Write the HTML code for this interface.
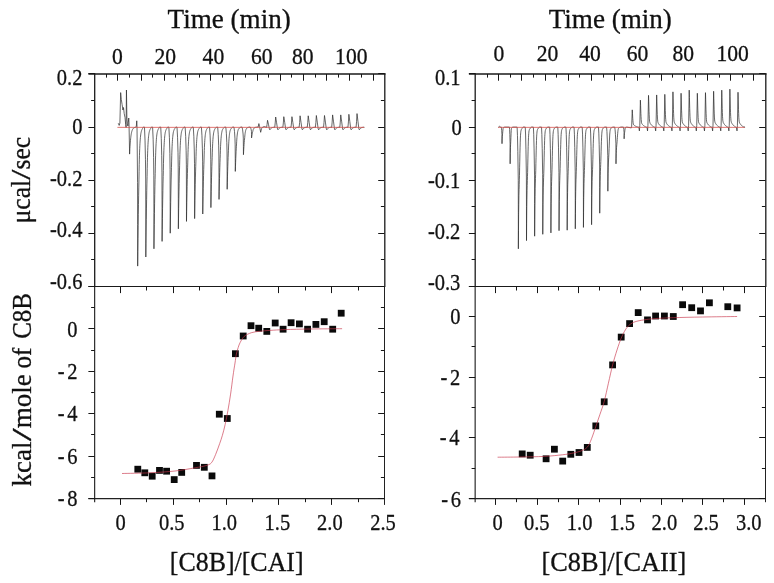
<!DOCTYPE html>
<html><head><meta charset="utf-8"><title>ITC</title>
<style>html,body{margin:0;padding:0;background:#fff}svg{display:block}text{stroke:#111;stroke-width:.3px;stroke-linejoin:round}</style>
</head><body>
<svg width="774" height="583" viewBox="0 0 774 583" font-family='"Liberation Serif", "Times New Roman", serif' fill="#111">
<rect width="774" height="583" fill="#fff"/>
<path d="M118.40,123.60 L119.20,125.40 L119.90,123.00 L120.65,92.60 L121.30,99.50 L122.10,104.50 L122.90,110.00 L123.50,107.50 L124.20,113.50 L125.00,117.50 L125.70,124.50 L126.10,127.50 L126.45,90.00 L126.90,118.00 L127.40,123.50 L127.90,126.00 L128.30,122.50 L128.75,118.00 L129.00,123.00 L129.60,154.10 L129.72,151.57 L129.87,148.74 L130.02,146.24 L130.17,144.02 L130.32,142.06 L130.47,140.33 L130.62,138.80 L130.77,137.45 L130.92,136.25 L131.07,135.19 L131.22,134.26 L131.37,133.43 L131.52,132.70 L131.67,132.05 L131.82,131.48 L131.97,130.97 L132.12,130.52 L132.27,130.13 L132.42,129.78 L132.57,129.47 L132.72,129.19 L132.87,128.95 L133.02,128.74 L133.17,128.55 L133.32,128.38 L133.47,128.23 L133.62,128.10 L133.77,127.98 L133.92,127.88 L134.07,127.79 L134.22,127.71 L134.37,127.64 L134.52,127.58 L134.67,127.52 L134.82,127.47 L134.97,127.43 L135.12,127.39 L136.30,126.60 L136.75,120.80 L137.00,126.20 L137.55,182.70 L137.64,224.40 L137.68,266.10 L137.84,251.43 L138.00,238.30 L138.16,225.78 L138.31,214.67 L138.47,204.33 L138.63,195.21 L138.79,187.08 L138.94,179.92 L139.08,171.62 L139.21,164.63 L139.33,159.89 L139.45,155.74 L139.57,152.12 L139.71,148.70 L139.84,145.75 L139.98,143.20 L140.11,141.00 L140.26,139.10 L140.40,137.46 L140.55,136.05 L140.69,134.83 L140.83,133.77 L140.96,133.10 L141.08,132.50 L141.20,131.96 L141.33,131.47 L141.45,131.03 L141.57,130.64 L141.69,130.28 L141.82,129.96 L141.94,129.68 L142.06,129.42 L142.18,129.19 L142.30,128.95 L142.42,128.72 L142.54,128.49 L142.66,128.26 L142.78,128.03 L142.90,127.79 L143.02,127.56 L143.14,127.33 L143.26,127.10 L144.47,127.10 L145.02,140.09 L145.46,159.57 L145.69,179.06 L145.78,218.03 L145.82,257.00 L145.98,243.29 L146.13,231.02 L146.29,219.32 L146.45,208.94 L146.61,199.27 L146.76,190.75 L146.92,183.15 L147.08,176.46 L147.21,168.71 L147.35,162.17 L147.47,157.74 L147.59,153.87 L147.71,150.48 L147.84,147.29 L147.98,144.53 L148.11,142.15 L148.25,140.09 L148.39,138.32 L148.54,136.79 L148.68,135.46 L148.83,134.32 L148.97,133.34 L149.09,132.71 L149.22,132.15 L149.34,131.64 L149.46,131.18 L149.58,130.77 L149.71,130.41 L149.83,130.07 L149.95,129.78 L150.07,129.51 L150.20,129.27 L150.32,129.05 L150.44,128.83 L150.56,128.62 L150.68,128.40 L150.80,128.18 L150.92,127.97 L151.04,127.75 L151.16,127.53 L151.28,127.32 L151.40,127.10 L152.60,127.10 L153.15,139.27 L153.59,157.52 L153.82,175.78 L153.91,212.29 L153.95,248.80 L154.11,235.95 L154.27,224.46 L154.43,213.50 L154.58,203.77 L154.74,194.72 L154.90,186.73 L155.06,179.61 L155.21,173.35 L155.35,166.08 L155.48,159.96 L155.60,155.80 L155.72,152.18 L155.84,149.01 L155.98,146.01 L156.11,143.43 L156.25,141.20 L156.38,139.27 L156.53,137.61 L156.67,136.17 L156.82,134.93 L156.96,133.87 L157.10,132.94 L157.23,132.36 L157.35,131.83 L157.47,131.35 L157.60,130.93 L157.72,130.54 L157.84,130.20 L157.96,129.89 L158.09,129.61 L158.21,129.36 L158.33,129.13 L158.45,128.93 L158.57,128.72 L158.69,128.52 L158.81,128.32 L158.93,128.11 L159.05,127.91 L159.17,127.71 L159.29,127.51 L159.41,127.30 L159.53,127.10 L160.74,127.10 L161.29,138.53 L161.73,155.67 L161.96,172.82 L162.05,207.11 L162.09,241.40 L162.25,229.33 L162.40,218.54 L162.56,208.24 L162.72,199.11 L162.88,190.61 L163.03,183.11 L163.19,176.42 L163.35,170.53 L163.48,163.71 L163.62,157.96 L163.74,154.06 L163.86,150.65 L163.98,147.67 L164.11,144.86 L164.25,142.43 L164.38,140.34 L164.52,138.53 L164.66,136.97 L164.81,135.62 L164.95,134.46 L165.10,133.45 L165.24,132.59 L165.36,132.04 L165.49,131.54 L165.61,131.10 L165.73,130.69 L165.85,130.33 L165.98,130.01 L166.10,129.72 L166.22,129.45 L166.34,129.22 L166.47,129.01 L166.59,128.81 L166.71,128.62 L166.83,128.43 L166.95,128.24 L167.07,128.05 L167.19,127.86 L167.31,127.67 L167.43,127.48 L167.55,127.29 L167.67,127.10 L168.87,127.10 L169.42,137.71 L169.86,153.62 L170.09,169.54 L170.18,201.37 L170.22,233.20 L170.38,222.00 L170.54,211.98 L170.70,202.42 L170.85,193.94 L171.01,186.05 L171.17,179.09 L171.33,172.88 L171.48,167.42 L171.62,161.09 L171.75,155.75 L171.87,152.13 L171.99,148.96 L172.11,146.20 L172.25,143.59 L172.38,141.33 L172.52,139.39 L172.65,137.71 L172.80,136.26 L172.94,135.01 L173.09,133.93 L173.23,133.00 L173.37,132.19 L173.50,131.68 L173.62,131.22 L173.74,130.81 L173.87,130.44 L173.99,130.10 L174.11,129.80 L174.23,129.53 L174.36,129.29 L174.48,129.07 L174.60,128.87 L174.72,128.69 L174.84,128.51 L174.96,128.34 L175.08,128.16 L175.20,127.98 L175.32,127.81 L175.44,127.63 L175.56,127.45 L175.68,127.28 L175.80,127.10 L177.01,127.10 L177.56,137.27 L178.00,152.52 L178.23,167.78 L178.32,198.29 L178.36,228.80 L178.52,218.06 L178.67,208.46 L178.83,199.30 L178.99,191.17 L179.15,183.61 L179.30,176.93 L179.46,170.98 L179.62,165.75 L179.75,159.68 L179.89,154.56 L180.01,151.09 L180.13,148.06 L180.25,145.41 L180.38,142.90 L180.52,140.74 L180.65,138.88 L180.79,137.27 L180.93,135.88 L181.08,134.68 L181.22,133.65 L181.37,132.75 L181.51,131.98 L181.63,131.49 L181.76,131.05 L181.88,130.65 L182.00,130.30 L182.12,129.98 L182.25,129.69 L182.37,129.43 L182.49,129.19 L182.61,128.98 L182.74,128.80 L182.86,128.63 L182.98,128.46 L183.10,128.29 L183.22,128.12 L183.34,127.95 L183.46,127.78 L183.58,127.61 L183.70,127.44 L183.82,127.27 L183.94,127.10 L185.14,127.10 L185.69,136.53 L186.13,150.67 L186.36,164.82 L186.45,193.11 L186.49,221.40 L186.65,211.44 L186.81,202.54 L186.97,194.05 L187.12,186.51 L187.28,179.49 L187.44,173.31 L187.60,167.79 L187.75,162.93 L187.89,157.31 L188.02,152.56 L188.14,149.34 L188.26,146.53 L188.38,144.07 L188.52,141.75 L188.65,139.75 L188.79,138.02 L188.92,136.53 L189.07,135.24 L189.21,134.13 L189.36,133.17 L189.50,132.34 L189.64,131.63 L189.77,131.17 L189.89,130.76 L190.01,130.40 L190.14,130.07 L190.26,129.77 L190.38,129.50 L190.50,129.26 L190.63,129.04 L190.75,128.85 L190.87,128.67 L190.99,128.51 L191.11,128.36 L191.23,128.20 L191.35,128.04 L191.47,127.89 L191.59,127.73 L191.71,127.57 L191.83,127.41 L191.95,127.26 L192.07,127.10 L193.28,127.10 L193.83,136.25 L194.27,149.97 L194.50,163.70 L194.59,191.15 L194.63,218.60 L194.79,208.94 L194.94,200.30 L195.10,192.06 L195.26,184.75 L195.42,177.94 L195.57,171.94 L195.73,166.58 L195.89,161.87 L196.02,156.41 L196.16,151.81 L196.28,148.68 L196.40,145.95 L196.52,143.57 L196.65,141.32 L196.79,139.38 L196.92,137.70 L197.06,136.25 L197.20,135.00 L197.35,133.92 L197.49,132.99 L197.64,132.19 L197.78,131.49 L197.90,131.05 L198.03,130.65 L198.15,130.30 L198.27,129.98 L198.39,129.69 L198.52,129.43 L198.64,129.20 L198.76,128.98 L198.88,128.80 L199.01,128.63 L199.13,128.47 L199.25,128.32 L199.37,128.17 L199.49,128.01 L199.61,127.86 L199.73,127.71 L199.85,127.56 L199.97,127.41 L200.09,127.25 L200.21,127.10 L201.41,127.10 L201.96,135.79 L202.40,148.82 L202.63,161.86 L202.72,187.93 L202.76,214.00 L202.92,204.83 L203.08,196.62 L203.24,188.79 L203.39,181.85 L203.55,175.38 L203.71,169.68 L203.87,164.60 L204.02,160.12 L204.16,154.94 L204.29,150.56 L204.41,147.60 L204.53,145.01 L204.66,142.74 L204.79,140.60 L204.92,138.76 L205.06,137.17 L205.19,135.79 L205.34,134.60 L205.48,133.58 L205.63,132.69 L205.77,131.93 L205.91,131.27 L206.04,130.85 L206.16,130.48 L206.28,130.14 L206.41,129.83 L206.53,129.56 L206.65,129.31 L206.77,129.09 L206.90,128.89 L207.02,128.71 L207.14,128.55 L207.26,128.40 L207.38,128.26 L207.50,128.11 L207.62,127.97 L207.74,127.82 L207.86,127.68 L207.98,127.53 L208.10,127.39 L208.22,127.24 L208.34,127.10 L209.55,127.10 L210.10,135.15 L210.54,147.22 L210.77,159.30 L210.86,183.45 L210.90,207.60 L211.06,199.10 L211.21,191.50 L211.37,184.25 L211.53,177.81 L211.69,171.83 L211.84,166.54 L212.00,161.84 L212.16,157.69 L212.29,152.89 L212.43,148.84 L212.55,146.09 L212.67,143.69 L212.79,141.59 L212.92,139.61 L213.06,137.90 L213.19,136.42 L213.33,135.15 L213.47,134.05 L213.62,133.10 L213.76,132.28 L213.91,131.57 L214.05,130.96 L214.17,130.58 L214.30,130.23 L214.42,129.91 L214.54,129.63 L214.66,129.38 L214.79,129.15 L214.91,128.94 L215.03,128.76 L215.15,128.59 L215.28,128.44 L215.40,128.31 L215.52,128.17 L215.64,128.04 L215.76,127.91 L215.88,127.77 L216.00,127.64 L216.12,127.50 L216.24,127.37 L216.36,127.23 L216.48,127.10 L217.68,127.10 L218.23,134.33 L218.67,145.17 L218.90,156.02 L218.99,177.71 L219.03,199.40 L219.19,191.77 L219.35,184.94 L219.51,178.43 L219.66,172.65 L219.82,167.27 L219.98,162.53 L220.14,158.30 L220.29,154.57 L220.43,150.26 L220.56,146.62 L220.68,144.15 L220.80,142.00 L220.92,140.11 L221.06,138.34 L221.19,136.80 L221.33,135.47 L221.46,134.33 L221.61,133.34 L221.75,132.49 L221.90,131.75 L222.04,131.12 L222.18,130.57 L222.31,130.22 L222.43,129.91 L222.55,129.63 L222.68,129.37 L222.80,129.15 L222.92,128.94 L223.04,128.76 L223.17,128.59 L223.29,128.44 L223.41,128.31 L223.53,128.18 L223.65,128.06 L223.77,127.94 L223.89,127.82 L224.01,127.70 L224.13,127.58 L224.25,127.46 L224.37,127.34 L224.49,127.22 L224.61,127.10 L225.82,127.10 L226.37,133.32 L226.81,142.65 L227.04,151.98 L227.13,170.64 L227.17,189.30 L227.33,182.73 L227.48,176.86 L227.64,171.26 L227.80,166.29 L227.96,161.66 L228.11,157.58 L228.27,153.94 L228.43,150.74 L228.56,147.02 L228.70,143.89 L228.82,141.77 L228.94,139.92 L229.06,138.30 L229.19,136.77 L229.33,135.45 L229.46,134.30 L229.60,133.32 L229.74,132.47 L229.89,131.74 L230.03,131.10 L230.18,130.56 L230.32,130.09 L230.44,129.79 L230.57,129.52 L230.69,129.27 L230.81,129.06 L230.93,128.86 L231.06,128.68 L231.18,128.52 L231.30,128.38 L231.42,128.25 L231.55,128.14 L231.67,128.03 L231.79,127.93 L231.91,127.83 L232.03,127.72 L232.15,127.62 L232.27,127.51 L232.39,127.41 L232.51,127.31 L232.63,127.20 L232.75,127.10 L233.95,127.10 L234.50,131.53 L234.94,138.17 L235.17,144.82 L235.26,158.11 L235.30,171.40 L235.46,166.72 L235.62,162.54 L235.78,158.55 L235.93,155.01 L236.09,151.71 L236.25,148.81 L236.41,146.22 L236.56,143.93 L236.70,141.29 L236.83,139.06 L236.95,137.55 L237.07,136.23 L237.19,135.07 L237.33,133.98 L237.46,133.04 L237.60,132.23 L237.73,131.53 L237.88,130.93 L238.02,130.40 L238.17,129.95 L238.31,129.56 L238.45,129.23 L238.58,129.01 L238.70,128.82 L238.82,128.65 L238.95,128.49 L239.07,128.35 L239.19,128.23 L239.31,128.11 L239.44,128.01 L239.56,127.92 L239.68,127.84 L239.80,127.76 L239.92,127.69 L240.04,127.62 L240.16,127.54 L240.28,127.47 L240.40,127.40 L240.52,127.32 L240.64,127.25 L240.76,127.17 L240.88,127.10 L242.09,127.10 L242.64,129.86 L243.08,134.00 L243.31,138.14 L243.40,146.42 L243.44,154.70 L243.60,151.79 L243.75,149.18 L243.91,146.69 L244.07,144.49 L244.23,142.43 L244.38,140.62 L244.54,139.01 L244.70,137.59 L244.83,135.94 L244.97,134.55 L245.09,133.61 L245.21,132.79 L245.33,132.07 L245.46,131.39 L245.60,130.80 L245.73,130.30 L245.87,129.86 L246.01,129.48 L246.16,129.16 L246.30,128.88 L246.45,128.63 L246.59,128.42 L246.71,128.29 L246.84,128.17 L246.96,128.06 L247.08,127.97 L247.20,127.88 L247.33,127.80 L247.45,127.73 L247.57,127.67 L247.69,127.61 L247.82,127.56 L247.94,127.51 L248.06,127.47 L248.18,127.42 L248.30,127.38 L248.42,127.33 L248.54,127.28 L248.66,127.24 L248.78,127.19 L248.90,127.15 L249.02,127.10 L250.22,127.10 L250.77,128.18 L251.21,129.80 L251.44,131.42 L251.53,134.66 L251.57,137.90 L251.73,136.76 L251.89,135.74 L252.05,134.77 L252.20,133.90 L252.36,133.10 L252.52,132.39 L252.68,131.76 L252.83,131.20 L252.97,130.56 L253.10,130.02 L253.22,129.65 L253.34,129.33 L253.47,129.04 L253.60,128.78 L253.73,128.55 L253.87,128.35 L254.00,128.18 L254.15,128.03 L254.29,127.91 L254.44,127.80 L254.58,127.70 L254.72,127.62 L254.85,127.57 L254.97,127.52 L255.09,127.48 L255.22,127.44 L255.34,127.41 L255.46,127.37 L255.58,127.35 L255.71,127.32 L255.83,127.30 L255.95,127.28 L256.07,127.26 L256.19,127.24 L256.31,127.23 L256.44,127.21 L256.56,127.19 L256.68,127.17 L256.80,127.15 L256.91,127.14 L257.03,127.12 L257.15,127.10 L258.16,127.10 L258.86,123.60 L259.56,126.40 L260.66,132.30 L261.56,128.60 L262.56,127.20 L264.26,126.60 L266.59,127.40 L267.07,124.45 L267.54,120.30 L268.47,124.27 L269.39,128.99 L269.89,129.80 L270.19,129.28 L270.50,128.86 L270.79,128.52 L271.09,128.25 L271.39,128.02 L271.69,127.85 L272.00,127.70 L272.29,127.59 L272.59,127.49 L272.89,127.42 L273.19,127.36 L273.50,127.31 L273.79,127.27 L274.09,127.23 L274.73,127.40 L275.20,123.07 L275.68,117.00 L276.60,122.78 L277.53,128.99 L278.03,129.80 L278.33,129.28 L278.63,128.86 L278.93,128.52 L279.23,128.25 L279.53,128.02 L279.83,127.85 L280.13,127.70 L280.43,127.59 L280.73,127.49 L281.03,127.42 L281.33,127.36 L281.63,127.31 L281.93,127.27 L282.23,127.23 L282.86,127.40 L283.34,122.94 L283.81,116.70 L284.74,122.64 L285.66,128.99 L286.16,129.80 L286.46,129.28 L286.76,128.86 L287.06,128.52 L287.36,128.25 L287.66,128.02 L287.96,127.85 L288.26,127.70 L288.56,127.59 L288.86,127.49 L289.16,127.42 L289.46,127.36 L289.76,127.31 L290.06,127.27 L290.36,127.23 L291.00,127.40 L291.47,122.94 L291.95,116.70 L292.87,122.64 L293.80,128.99 L294.30,129.80 L294.60,129.28 L294.90,128.86 L295.20,128.52 L295.50,128.25 L295.80,128.02 L296.10,127.85 L296.40,127.70 L296.70,127.59 L297.00,127.49 L297.30,127.42 L297.60,127.36 L297.90,127.31 L298.20,127.27 L298.50,127.23 L299.13,127.40 L299.61,122.56 L300.08,115.80 L301.01,122.24 L301.94,128.99 L302.44,129.80 L302.74,129.28 L303.04,128.86 L303.33,128.52 L303.63,128.25 L303.94,128.02 L304.24,127.85 L304.54,127.70 L304.83,127.59 L305.13,127.49 L305.44,127.42 L305.74,127.36 L306.04,127.31 L306.33,127.27 L306.63,127.23 L307.27,127.40 L307.74,122.56 L308.22,115.80 L309.14,122.24 L310.07,128.99 L310.57,129.80 L310.87,129.28 L311.17,128.86 L311.47,128.52 L311.77,128.25 L312.07,128.02 L312.37,127.85 L312.67,127.70 L312.97,127.59 L313.27,127.49 L313.57,127.42 L313.87,127.36 L314.17,127.31 L314.47,127.27 L314.77,127.23 L315.40,127.40 L315.88,122.44 L316.35,115.50 L317.28,122.10 L318.20,128.99 L318.70,129.80 L319.00,129.28 L319.31,128.86 L319.60,128.52 L319.90,128.25 L320.20,128.02 L320.50,127.85 L320.81,127.70 L321.10,127.59 L321.40,127.49 L321.70,127.42 L322.00,127.36 L322.31,127.31 L322.60,127.27 L322.90,127.23 L323.54,127.40 L324.01,122.44 L324.49,115.50 L325.42,122.10 L326.34,128.99 L326.84,129.80 L327.14,129.28 L327.44,128.86 L327.74,128.52 L328.04,128.25 L328.34,128.02 L328.64,127.85 L328.94,127.70 L329.24,127.59 L329.54,127.49 L329.84,127.42 L330.14,127.36 L330.44,127.31 L330.74,127.27 L331.04,127.23 L331.68,127.40 L332.15,122.19 L332.62,114.90 L333.55,121.83 L334.48,128.99 L334.98,129.80 L335.28,129.28 L335.58,128.86 L335.88,128.52 L336.18,128.25 L336.48,128.02 L336.78,127.85 L337.08,127.70 L337.38,127.59 L337.68,127.49 L337.98,127.42 L338.28,127.36 L338.58,127.31 L338.88,127.27 L339.18,127.23 L339.81,127.40 L340.28,122.19 L340.76,114.90 L341.69,121.83 L342.61,128.99 L343.11,129.80 L343.41,129.28 L343.71,128.86 L344.01,128.52 L344.31,128.25 L344.61,128.02 L344.91,127.85 L345.21,127.70 L345.51,127.59 L345.81,127.49 L346.11,127.42 L346.41,127.36 L346.71,127.31 L347.01,127.27 L347.31,127.23 L347.94,127.40 L348.42,121.93 L348.89,114.30 L349.82,121.56 L350.75,128.99 L351.25,129.80 L351.55,129.28 L351.85,128.86 L352.14,128.52 L352.44,128.25 L352.75,128.02 L353.05,127.85 L353.35,127.70 L353.64,127.59 L353.94,127.49 L354.25,127.42 L354.55,127.36 L354.85,127.31 L355.14,127.27 L355.44,127.23 L356.08,127.40 L356.55,121.64 L357.03,113.60 L357.95,121.25 L358.88,128.99 L359.38,129.80 L359.68,129.28 L359.98,128.86 L360.28,128.52 L360.58,128.25 L360.88,128.02 L361.18,127.85 L361.48,127.70 L361.78,127.59 L362.08,127.49 L362.38,127.42 L362.68,127.36 L362.98,127.31 L363.28,127.27 L363.58,127.23 L364.00,127.30" fill="none" stroke="#2b2b2b" stroke-width="0.72" stroke-linejoin="miter" stroke-miterlimit="20" stroke-linecap="round"/>
<path d="M498.60,127.10 L499.60,126.30 L500.60,127.10 L501.31,127.10 L501.50,128.26 L501.70,130.42 L501.94,134.40 L501.98,138.72 L502.00,143.70 L502.14,139.05 L502.30,136.40 L502.47,134.90 L502.60,133.74 L502.77,131.75 L502.94,129.92 L503.10,128.59 L503.24,128.03 L503.38,127.68 L503.50,127.55 L503.62,127.45 L503.74,127.37 L503.86,127.31 L503.98,127.27 L504.11,127.24 L504.24,127.21 L504.37,127.18 L504.49,127.16 L504.62,127.13 L504.75,127.10 L509.45,127.10 L509.64,129.67 L509.83,134.44 L510.08,143.25 L510.12,152.79 L510.13,163.80 L510.27,153.52 L510.44,147.65 L510.60,144.35 L510.74,141.78 L510.91,137.38 L511.07,133.34 L511.24,130.40 L511.37,129.16 L511.51,128.38 L511.63,128.10 L511.75,127.88 L511.87,127.71 L511.99,127.57 L512.12,127.47 L512.24,127.41 L512.37,127.34 L512.50,127.28 L512.63,127.22 L512.76,127.16 L512.88,127.10 L517.12,127.10 L517.47,135.62 L517.82,151.44 L518.27,180.65 L518.34,212.29 L518.37,248.80 L518.49,230.37 L518.62,214.72 L518.77,204.38 L518.92,195.25 L519.07,189.54 L519.22,184.30 L519.34,179.87 L519.47,175.78 L519.62,167.83 L519.77,161.18 L519.92,153.65 L520.07,147.79 L520.22,142.15 L520.37,138.05 L520.49,135.75 L520.62,133.93 L520.74,132.49 L520.87,131.36 L520.99,130.81 L521.11,130.32 L521.24,129.91 L521.36,129.54 L521.48,129.22 L521.60,128.95 L521.73,128.71 L521.85,128.50 L521.97,128.32 L522.10,128.21 L522.22,128.10 L522.35,127.99 L522.48,127.87 L522.61,127.76 L522.73,127.65 L522.86,127.54 L522.99,127.43 L523.12,127.32 L523.24,127.21 L523.37,127.10 L525.25,127.10 L525.60,135.04 L525.95,149.80 L526.40,177.04 L526.47,206.55 L526.50,240.60 L526.63,223.41 L526.75,208.82 L526.90,199.17 L527.05,190.66 L527.20,185.33 L527.35,180.44 L527.48,176.31 L527.60,172.50 L527.75,165.08 L527.90,158.88 L528.05,151.86 L528.20,146.39 L528.35,141.14 L528.50,137.31 L528.63,135.17 L528.75,133.47 L528.88,132.13 L529.00,131.07 L529.13,130.56 L529.25,130.11 L529.37,129.72 L529.49,129.38 L529.62,129.08 L529.74,128.82 L529.86,128.60 L529.98,128.40 L530.10,128.23 L530.23,128.13 L530.36,128.03 L530.49,127.93 L530.61,127.82 L530.74,127.72 L530.87,127.62 L531.00,127.51 L531.12,127.41 L531.25,127.31 L531.38,127.20 L531.50,127.10 L533.39,127.10 L533.74,134.74 L534.09,148.92 L534.54,175.10 L534.61,203.47 L534.64,236.20 L534.76,219.67 L534.89,205.65 L535.04,196.38 L535.19,188.20 L535.34,183.07 L535.49,178.38 L535.61,174.40 L535.74,170.74 L535.89,163.61 L536.04,157.65 L536.19,150.90 L536.34,145.65 L536.49,140.59 L536.64,136.92 L536.76,134.85 L536.89,133.22 L537.01,131.94 L537.14,130.92 L537.26,130.42 L537.38,129.99 L537.51,129.61 L537.63,129.29 L537.75,129.00 L537.87,128.76 L538.00,128.54 L538.12,128.35 L538.24,128.19 L538.37,128.09 L538.49,127.99 L538.62,127.89 L538.75,127.79 L538.88,127.70 L539.00,127.60 L539.13,127.50 L539.26,127.40 L539.39,127.30 L539.51,127.20 L539.64,127.10 L541.52,127.10 L541.87,134.60 L542.22,148.54 L542.67,174.27 L542.74,202.14 L542.77,234.30 L542.90,218.06 L543.02,204.28 L543.17,195.17 L543.32,187.13 L543.47,182.10 L543.62,177.48 L543.75,173.58 L543.87,169.98 L544.02,162.98 L544.17,157.12 L544.32,150.49 L544.47,145.32 L544.62,140.36 L544.77,136.75 L544.90,134.72 L545.02,133.12 L545.15,131.85 L545.27,130.85 L545.40,130.36 L545.52,129.94 L545.64,129.57 L545.76,129.25 L545.89,128.97 L546.01,128.73 L546.13,128.52 L546.25,128.33 L546.37,128.17 L546.50,128.07 L546.63,127.98 L546.76,127.88 L546.88,127.78 L547.01,127.68 L547.14,127.59 L547.27,127.49 L547.39,127.39 L547.52,127.29 L547.65,127.20 L547.77,127.10 L549.66,127.10 L550.01,134.51 L550.36,148.26 L550.81,173.65 L550.88,201.16 L550.91,232.90 L551.03,216.87 L551.16,203.28 L551.31,194.28 L551.46,186.35 L551.61,181.38 L551.76,176.83 L551.88,172.97 L552.01,169.42 L552.16,162.51 L552.31,156.72 L552.46,150.18 L552.61,145.09 L552.76,140.19 L552.91,136.62 L553.03,134.62 L553.16,133.04 L553.28,131.79 L553.41,130.80 L553.53,130.32 L553.65,129.90 L553.78,129.54 L553.90,129.22 L554.02,128.95 L554.14,128.71 L554.27,128.50 L554.39,128.32 L554.51,128.16 L554.64,128.06 L554.76,127.97 L554.89,127.87 L555.02,127.77 L555.15,127.68 L555.27,127.58 L555.40,127.48 L555.53,127.39 L555.66,127.29 L555.78,127.20 L555.91,127.10 L557.79,127.10 L558.14,134.35 L558.50,147.82 L558.94,172.68 L559.01,199.62 L559.04,230.70 L559.17,215.01 L559.29,201.69 L559.44,192.88 L559.59,185.12 L559.74,180.25 L559.89,175.79 L560.02,172.02 L560.14,168.54 L560.29,161.77 L560.44,156.11 L560.59,149.70 L560.74,144.71 L560.89,139.91 L561.04,136.42 L561.17,134.46 L561.29,132.91 L561.42,131.69 L561.54,130.73 L561.67,130.25 L561.79,129.84 L561.91,129.49 L562.03,129.18 L562.16,128.91 L562.28,128.67 L562.40,128.47 L562.52,128.29 L562.64,128.14 L562.77,128.04 L562.90,127.95 L563.03,127.85 L563.15,127.76 L563.28,127.67 L563.41,127.57 L563.54,127.48 L563.66,127.38 L563.79,127.29 L563.92,127.19 L564.04,127.10 L565.93,127.10 L566.28,134.32 L566.63,147.72 L567.08,172.46 L567.15,199.27 L567.18,230.20 L567.30,214.58 L567.43,201.33 L567.58,192.57 L567.73,184.84 L567.88,179.99 L568.03,175.56 L568.15,171.80 L568.28,168.34 L568.43,161.60 L568.58,155.97 L568.73,149.59 L568.88,144.63 L569.03,139.85 L569.18,136.38 L569.30,134.43 L569.43,132.89 L569.55,131.67 L569.68,130.71 L569.80,130.24 L569.92,129.83 L570.05,129.48 L570.17,129.17 L570.29,128.90 L570.41,128.67 L570.54,128.46 L570.66,128.28 L570.78,128.13 L570.91,128.04 L571.03,127.94 L571.16,127.85 L571.29,127.76 L571.42,127.66 L571.54,127.57 L571.67,127.47 L571.80,127.38 L571.93,127.29 L572.05,127.19 L572.18,127.10 L574.06,127.10 L574.41,134.22 L574.76,147.44 L575.21,171.85 L575.28,198.29 L575.31,228.80 L575.44,213.40 L575.56,200.32 L575.71,191.68 L575.86,184.05 L576.01,179.28 L576.16,174.90 L576.29,171.20 L576.41,167.78 L576.56,161.14 L576.71,155.58 L576.86,149.29 L577.01,144.39 L577.16,139.68 L577.31,136.25 L577.44,134.33 L577.56,132.81 L577.69,131.61 L577.81,130.66 L577.94,130.20 L578.06,129.79 L578.18,129.44 L578.30,129.14 L578.43,128.87 L578.55,128.64 L578.67,128.44 L578.79,128.27 L578.91,128.12 L579.04,128.02 L579.17,127.93 L579.30,127.84 L579.42,127.75 L579.55,127.65 L579.68,127.56 L579.81,127.47 L579.93,127.38 L580.06,127.28 L580.19,127.19 L580.31,127.10 L582.20,127.10 L582.55,134.12 L582.90,147.16 L583.35,171.23 L583.42,197.31 L583.45,227.40 L583.57,212.21 L583.70,199.32 L583.85,190.79 L584.00,183.27 L584.15,178.56 L584.30,174.24 L584.42,170.59 L584.55,167.22 L584.70,160.67 L584.85,155.18 L585.00,148.98 L585.15,144.15 L585.30,139.51 L585.45,136.13 L585.57,134.23 L585.70,132.73 L585.82,131.55 L585.95,130.61 L586.07,130.15 L586.19,129.76 L586.32,129.41 L586.44,129.11 L586.56,128.85 L586.68,128.62 L586.81,128.42 L586.93,128.25 L587.05,128.10 L587.18,128.01 L587.30,127.92 L587.43,127.83 L587.56,127.74 L587.69,127.65 L587.81,127.56 L587.94,127.46 L588.07,127.37 L588.20,127.28 L588.32,127.19 L588.45,127.10 L590.33,127.10 L590.68,133.93 L591.03,146.62 L591.48,170.04 L591.55,195.42 L591.58,224.70 L591.71,209.92 L591.83,197.37 L591.98,189.07 L592.13,181.76 L592.28,177.17 L592.43,172.97 L592.56,169.42 L592.68,166.14 L592.83,159.76 L592.98,154.43 L593.13,148.39 L593.28,143.69 L593.43,139.17 L593.58,135.88 L593.71,134.04 L593.83,132.58 L593.96,131.43 L594.08,130.52 L594.21,130.07 L594.33,129.69 L594.45,129.35 L594.57,129.06 L594.70,128.80 L594.82,128.58 L594.94,128.39 L595.06,128.22 L595.18,128.08 L595.31,127.99 L595.44,127.90 L595.57,127.81 L595.69,127.72 L595.82,127.63 L595.95,127.54 L596.08,127.45 L596.20,127.37 L596.33,127.28 L596.46,127.19 L596.58,127.10 L598.47,127.10 L598.82,133.13 L599.17,144.32 L599.62,164.98 L599.69,187.37 L599.72,213.20 L599.84,200.16 L599.97,189.09 L600.12,181.77 L600.27,175.32 L600.42,171.27 L600.57,167.57 L600.69,164.43 L600.82,161.54 L600.97,155.91 L601.12,151.21 L601.27,145.88 L601.42,141.74 L601.57,137.75 L601.72,134.85 L601.84,133.22 L601.97,131.93 L602.09,130.92 L602.22,130.11 L602.34,129.72 L602.46,129.38 L602.59,129.08 L602.71,128.83 L602.83,128.60 L602.95,128.41 L603.08,128.24 L603.20,128.09 L603.32,127.96 L603.45,127.88 L603.57,127.80 L603.70,127.73 L603.83,127.65 L603.96,127.57 L604.08,127.49 L604.21,127.41 L604.34,127.33 L604.47,127.26 L604.59,127.18 L604.72,127.10 L606.60,127.10 L606.95,131.59 L607.30,139.92 L607.75,155.30 L607.82,171.97 L607.85,191.20 L607.98,181.49 L608.10,173.25 L608.25,167.80 L608.40,163.00 L608.55,159.99 L608.70,157.23 L608.83,154.89 L608.95,152.74 L609.10,148.55 L609.25,145.05 L609.40,141.08 L609.55,138.00 L609.70,135.03 L609.85,132.87 L609.98,131.66 L610.10,130.70 L610.23,129.94 L610.35,129.34 L610.48,129.05 L610.60,128.80 L610.72,128.58 L610.84,128.39 L610.97,128.22 L611.09,128.07 L611.21,127.95 L611.33,127.84 L611.45,127.74 L611.58,127.68 L611.71,127.62 L611.84,127.57 L611.96,127.51 L612.09,127.45 L612.22,127.39 L612.35,127.33 L612.47,127.27 L612.60,127.22 L612.73,127.16 L612.85,127.10 L614.74,127.10 L615.09,129.67 L615.44,134.44 L615.89,143.25 L615.96,152.79 L615.99,163.80 L616.11,158.24 L616.24,153.52 L616.39,150.40 L616.54,147.65 L616.69,145.93 L616.84,144.35 L616.96,143.01 L617.09,141.78 L617.24,139.38 L617.39,137.38 L617.54,135.11 L617.69,133.34 L617.84,131.64 L617.99,130.40 L618.11,129.71 L618.24,129.16 L618.36,128.73 L618.49,128.38 L618.61,128.22 L618.73,128.07 L618.86,127.95 L618.98,127.84 L619.10,127.74 L619.22,127.66 L619.35,127.58 L619.47,127.52 L619.59,127.47 L619.72,127.43 L619.84,127.40 L619.97,127.37 L620.10,127.33 L620.23,127.30 L620.35,127.27 L620.48,127.23 L620.61,127.20 L620.74,127.17 L620.86,127.13 L620.99,127.10 L623.44,127.10 L623.63,127.92 L623.82,129.44 L624.07,132.25 L624.11,135.29 L624.12,138.80 L624.26,135.52 L624.43,133.65 L624.59,132.60 L624.73,131.78 L624.89,130.38 L625.06,129.09 L625.22,128.15 L625.36,127.76 L625.50,127.51 L625.62,127.42 L625.74,127.35 L625.86,127.29 L625.98,127.25 L626.10,127.22 L626.23,127.20 L626.36,127.18 L626.49,127.16 L626.62,127.14 L626.75,127.12 L626.87,127.10 L631.26,127.90 L631.66,126.24 L632.26,109.85 L632.48,113.30 L632.76,118.47 L632.91,120.37 L633.06,122.27 L633.21,123.22 L633.36,124.17 L633.56,124.56 L633.76,124.94 L633.91,125.07 L634.06,125.20 L634.21,125.33 L634.36,125.46 L634.51,125.56 L634.66,125.66 L634.81,125.76 L634.96,125.86 L635.11,125.96 L635.26,126.06 L635.42,126.13 L635.59,126.20 L635.75,126.27 L635.91,126.34 L636.07,126.41 L636.24,126.48 L636.40,126.55 L636.56,126.62 L636.72,126.67 L636.88,126.72 L637.05,126.77 L637.21,126.82 L637.37,126.88 L637.53,126.93 L637.70,126.98 L637.86,127.03 L638.03,127.07 L638.19,127.11 L638.36,127.15 L638.53,127.19 L638.69,127.23 L638.86,127.27 L639.39,130.90 L639.79,125.75 L640.39,100.15 L640.62,105.54 L640.89,113.62 L641.04,116.59 L641.19,119.55 L641.34,121.04 L641.49,122.52 L641.70,123.12 L641.89,123.73 L642.04,123.93 L642.19,124.14 L642.35,124.34 L642.50,124.54 L642.64,124.70 L642.79,124.85 L642.95,125.01 L643.10,125.17 L643.25,125.33 L643.39,125.48 L643.56,125.59 L643.72,125.70 L643.88,125.81 L644.04,125.91 L644.21,126.02 L644.37,126.13 L644.53,126.24 L644.69,126.35 L644.86,126.43 L645.02,126.51 L645.18,126.59 L645.34,126.67 L645.51,126.75 L645.67,126.83 L645.83,126.91 L645.99,126.99 L646.16,127.06 L646.33,127.12 L646.50,127.18 L646.66,127.24 L646.83,127.31 L647.00,127.37 L647.53,130.90 L647.93,125.51 L648.53,95.35 L648.75,101.70 L649.03,111.22 L649.18,114.72 L649.33,118.21 L649.48,119.96 L649.63,121.70 L649.83,122.42 L650.03,123.13 L650.18,123.37 L650.33,123.61 L650.48,123.85 L650.63,124.08 L650.78,124.27 L650.93,124.45 L651.08,124.64 L651.23,124.82 L651.38,125.01 L651.53,125.19 L651.69,125.32 L651.86,125.45 L652.02,125.58 L652.18,125.70 L652.34,125.83 L652.50,125.96 L652.67,126.08 L652.83,126.21 L652.99,126.31 L653.15,126.40 L653.32,126.50 L653.48,126.59 L653.64,126.69 L653.80,126.78 L653.97,126.88 L654.13,126.97 L654.30,127.05 L654.46,127.12 L654.63,127.20 L654.80,127.27 L654.96,127.34 L655.13,127.42 L655.66,130.90 L656.06,125.49 L656.66,94.95 L656.88,101.38 L657.16,111.02 L657.31,114.56 L657.46,118.10 L657.61,119.87 L657.76,121.63 L657.97,122.36 L658.16,123.08 L658.31,123.32 L658.46,123.56 L658.62,123.80 L658.76,124.05 L658.91,124.23 L659.06,124.42 L659.22,124.61 L659.37,124.80 L659.51,124.98 L659.66,125.17 L659.83,125.30 L659.99,125.43 L660.15,125.56 L660.31,125.69 L660.48,125.81 L660.64,125.94 L660.80,126.07 L660.96,126.20 L661.13,126.30 L661.29,126.39 L661.45,126.49 L661.61,126.59 L661.78,126.68 L661.94,126.78 L662.10,126.87 L662.26,126.97 L662.43,127.05 L662.60,127.12 L662.76,127.20 L662.93,127.27 L663.10,127.35 L663.26,127.42 L663.80,130.90 L664.20,125.46 L664.80,94.35 L665.02,100.90 L665.30,110.72 L665.45,114.33 L665.60,117.93 L665.75,119.73 L665.90,121.53 L666.10,122.27 L666.30,123.01 L666.45,123.25 L666.60,123.50 L666.75,123.74 L666.90,123.99 L667.05,124.18 L667.20,124.37 L667.35,124.56 L667.50,124.75 L667.65,124.94 L667.80,125.13 L667.96,125.27 L668.12,125.40 L668.29,125.53 L668.45,125.66 L668.61,125.79 L668.77,125.92 L668.94,126.05 L669.10,126.18 L669.26,126.28 L669.42,126.38 L669.59,126.48 L669.75,126.58 L669.91,126.67 L670.07,126.77 L670.24,126.87 L670.40,126.97 L670.57,127.05 L670.73,127.12 L670.90,127.20 L671.07,127.27 L671.23,127.35 L671.40,127.43 L671.94,130.90 L672.34,125.34 L672.94,91.85 L673.16,98.90 L673.44,109.47 L673.59,113.35 L673.74,117.23 L673.88,119.17 L674.03,121.11 L674.24,121.90 L674.44,122.69 L674.59,122.96 L674.74,123.22 L674.89,123.49 L675.04,123.75 L675.19,123.96 L675.34,124.16 L675.49,124.37 L675.64,124.57 L675.79,124.78 L675.94,124.98 L676.10,125.13 L676.26,125.27 L676.42,125.41 L676.59,125.55 L676.75,125.69 L676.91,125.83 L677.07,125.97 L677.24,126.11 L677.40,126.22 L677.56,126.32 L677.72,126.43 L677.88,126.54 L678.05,126.64 L678.21,126.75 L678.37,126.85 L678.53,126.96 L678.70,127.04 L678.87,127.12 L679.04,127.21 L679.20,127.29 L679.37,127.37 L679.54,127.45 L680.07,130.90 L680.47,125.41 L681.07,93.25 L681.29,100.02 L681.57,110.17 L681.72,113.90 L681.87,117.62 L682.02,119.48 L682.17,121.35 L682.37,122.11 L682.57,122.87 L682.72,123.12 L682.87,123.38 L683.02,123.63 L683.17,123.88 L683.32,124.08 L683.47,124.28 L683.62,124.48 L683.77,124.67 L683.92,124.87 L684.07,125.07 L684.23,125.20 L684.40,125.34 L684.56,125.48 L684.72,125.61 L684.88,125.75 L685.05,125.88 L685.21,126.02 L685.37,126.15 L685.53,126.25 L685.70,126.36 L685.86,126.46 L686.02,126.56 L686.18,126.66 L686.35,126.76 L686.51,126.86 L686.67,126.96 L686.84,127.04 L687.00,127.12 L687.17,127.20 L687.34,127.28 L687.50,127.36 L687.67,127.44 L688.21,130.90 L688.61,125.25 L689.21,90.15 L689.43,97.54 L689.71,108.62 L689.86,112.69 L690.00,116.75 L690.15,118.79 L690.30,120.82 L690.51,121.65 L690.71,122.48 L690.86,122.76 L691.00,123.04 L691.16,123.31 L691.31,123.59 L691.46,123.81 L691.61,124.02 L691.76,124.24 L691.91,124.45 L692.06,124.67 L692.21,124.88 L692.37,125.03 L692.53,125.18 L692.69,125.33 L692.86,125.47 L693.02,125.62 L693.18,125.77 L693.34,125.92 L693.50,126.07 L693.67,126.18 L693.83,126.29 L693.99,126.40 L694.15,126.51 L694.32,126.62 L694.48,126.73 L694.64,126.84 L694.80,126.95 L694.97,127.04 L695.14,127.12 L695.31,127.21 L695.47,127.30 L695.64,127.38 L695.81,127.47 L696.34,130.90 L696.74,125.41 L697.34,93.25 L697.56,100.02 L697.84,110.17 L697.99,113.90 L698.14,117.62 L698.29,119.48 L698.44,121.35 L698.64,122.11 L698.84,122.87 L698.99,123.12 L699.14,123.38 L699.29,123.63 L699.44,123.88 L699.59,124.08 L699.74,124.28 L699.89,124.48 L700.04,124.67 L700.19,124.87 L700.34,125.07 L700.50,125.20 L700.67,125.34 L700.83,125.48 L700.99,125.61 L701.15,125.75 L701.32,125.88 L701.48,126.02 L701.64,126.15 L701.80,126.25 L701.97,126.36 L702.13,126.46 L702.29,126.56 L702.45,126.66 L702.62,126.76 L702.78,126.86 L702.94,126.96 L703.11,127.04 L703.27,127.12 L703.44,127.20 L703.61,127.28 L703.77,127.36 L703.94,127.44 L704.48,130.90 L704.88,125.38 L705.48,92.65 L705.70,99.54 L705.98,109.88 L706.12,113.66 L706.27,117.45 L706.42,119.35 L706.57,121.24 L706.78,122.02 L706.98,122.79 L707.12,123.05 L707.27,123.31 L707.43,123.57 L707.58,123.83 L707.73,124.03 L707.88,124.23 L708.03,124.43 L708.18,124.63 L708.33,124.83 L708.48,125.03 L708.64,125.17 L708.80,125.31 L708.96,125.45 L709.12,125.58 L709.29,125.72 L709.45,125.86 L709.61,126.00 L709.77,126.14 L709.94,126.24 L710.10,126.34 L710.26,126.45 L710.42,126.55 L710.59,126.65 L710.75,126.76 L710.91,126.86 L711.07,126.96 L711.24,127.04 L711.41,127.12 L711.58,127.20 L711.74,127.28 L711.91,127.36 L712.08,127.44 L712.61,130.90 L713.01,125.31 L713.61,91.25 L713.83,98.42 L714.11,109.17 L714.26,113.12 L714.41,117.06 L714.56,119.03 L714.71,121.01 L714.91,121.81 L715.11,122.62 L715.26,122.89 L715.41,123.16 L715.56,123.43 L715.71,123.69 L715.86,123.90 L716.01,124.11 L716.16,124.32 L716.31,124.53 L716.46,124.74 L716.61,124.95 L716.77,125.09 L716.94,125.24 L717.10,125.38 L717.26,125.52 L717.42,125.67 L717.59,125.81 L717.75,125.95 L717.91,126.10 L718.07,126.20 L718.24,126.31 L718.40,126.42 L718.56,126.53 L718.72,126.63 L718.88,126.74 L719.05,126.85 L719.21,126.96 L719.38,127.04 L719.54,127.12 L719.71,127.21 L719.88,127.29 L720.04,127.37 L720.21,127.46 L720.75,130.90 L721.14,125.25 L721.75,90.15 L721.97,97.54 L722.25,108.62 L722.39,112.69 L722.54,116.75 L722.69,118.79 L722.84,120.82 L723.05,121.65 L723.25,122.48 L723.39,122.76 L723.54,123.04 L723.70,123.31 L723.85,123.59 L724.00,123.81 L724.14,124.02 L724.30,124.24 L724.45,124.45 L724.60,124.67 L724.75,124.88 L724.91,125.03 L725.07,125.18 L725.23,125.33 L725.39,125.47 L725.56,125.62 L725.72,125.77 L725.88,125.92 L726.04,126.07 L726.21,126.18 L726.37,126.29 L726.53,126.40 L726.69,126.51 L726.86,126.62 L727.02,126.73 L727.18,126.84 L727.34,126.95 L727.51,127.04 L727.68,127.12 L727.85,127.21 L728.01,127.30 L728.18,127.38 L728.35,127.47 L728.88,130.90 L729.28,125.20 L729.88,89.15 L730.10,96.74 L730.38,108.12 L730.53,112.30 L730.68,116.47 L730.83,118.56 L730.98,120.65 L731.18,121.50 L731.38,122.36 L731.53,122.64 L731.68,122.93 L731.83,123.21 L731.98,123.49 L732.13,123.72 L732.28,123.94 L732.43,124.16 L732.58,124.38 L732.73,124.60 L732.88,124.82 L733.04,124.97 L733.21,125.13 L733.37,125.28 L733.53,125.43 L733.69,125.58 L733.86,125.73 L734.02,125.89 L734.18,126.04 L734.34,126.15 L734.50,126.27 L734.67,126.38 L734.83,126.49 L734.99,126.61 L735.15,126.72 L735.32,126.83 L735.48,126.95 L735.65,127.04 L735.81,127.13 L735.98,127.21 L736.15,127.30 L736.31,127.39 L736.48,127.48 L737.01,130.90 L737.41,125.36 L738.01,92.25 L738.24,99.22 L738.51,109.67 L738.66,113.51 L738.81,117.34 L738.96,119.26 L739.11,121.18 L739.32,121.96 L739.51,122.74 L739.66,123.01 L739.81,123.27 L739.97,123.53 L740.12,123.79 L740.26,123.99 L740.41,124.20 L740.57,124.40 L740.72,124.60 L740.87,124.81 L741.01,125.01 L741.18,125.15 L741.34,125.29 L741.50,125.43 L741.66,125.57 L741.83,125.71 L741.99,125.85 L742.15,125.98 L742.31,126.12 L742.48,126.23 L742.64,126.33 L742.80,126.44 L742.96,126.54 L743.13,126.65 L743.29,126.75 L743.45,126.86 L743.61,126.96 L743.78,127.04 L743.95,127.12 L744.12,127.20 L744.28,127.29 L744.45,127.37 L744.62,127.45 L744.40,126.80" fill="none" stroke="#2b2b2b" stroke-width="0.72" stroke-linejoin="miter" stroke-miterlimit="20" stroke-linecap="round"/>
<line x1="117.40" y1="127.35" x2="364.20" y2="127.35" stroke="#d8504c" stroke-width="0.8" stroke-linecap="butt"/>
<line x1="498.20" y1="127.35" x2="744.60" y2="127.35" stroke="#d8504c" stroke-width="0.8" stroke-linecap="butt"/>
<rect x="134.40" y="465.80" width="6.8" height="6.8" fill="#0a0a0a"/>
<rect x="141.40" y="469.40" width="6.8" height="6.8" fill="#0a0a0a"/>
<rect x="148.80" y="472.80" width="6.8" height="6.8" fill="#0a0a0a"/>
<rect x="156.10" y="467.00" width="6.8" height="6.8" fill="#0a0a0a"/>
<rect x="163.20" y="467.80" width="6.8" height="6.8" fill="#0a0a0a"/>
<rect x="170.80" y="476.20" width="6.8" height="6.8" fill="#0a0a0a"/>
<rect x="178.30" y="469.00" width="6.8" height="6.8" fill="#0a0a0a"/>
<rect x="193.10" y="462.00" width="6.8" height="6.8" fill="#0a0a0a"/>
<rect x="200.90" y="463.90" width="6.8" height="6.8" fill="#0a0a0a"/>
<rect x="208.60" y="472.50" width="6.8" height="6.8" fill="#0a0a0a"/>
<rect x="215.90" y="410.80" width="6.8" height="6.8" fill="#0a0a0a"/>
<rect x="223.90" y="415.10" width="6.8" height="6.8" fill="#0a0a0a"/>
<rect x="232.00" y="350.30" width="6.8" height="6.8" fill="#0a0a0a"/>
<rect x="239.80" y="332.60" width="6.8" height="6.8" fill="#0a0a0a"/>
<rect x="247.60" y="322.30" width="6.8" height="6.8" fill="#0a0a0a"/>
<rect x="255.30" y="324.80" width="6.8" height="6.8" fill="#0a0a0a"/>
<rect x="263.40" y="328.00" width="6.8" height="6.8" fill="#0a0a0a"/>
<rect x="271.80" y="319.60" width="6.8" height="6.8" fill="#0a0a0a"/>
<rect x="279.70" y="325.80" width="6.8" height="6.8" fill="#0a0a0a"/>
<rect x="287.70" y="319.30" width="6.8" height="6.8" fill="#0a0a0a"/>
<rect x="296.00" y="320.50" width="6.8" height="6.8" fill="#0a0a0a"/>
<rect x="304.20" y="325.80" width="6.8" height="6.8" fill="#0a0a0a"/>
<rect x="312.50" y="321.00" width="6.8" height="6.8" fill="#0a0a0a"/>
<rect x="320.80" y="318.30" width="6.8" height="6.8" fill="#0a0a0a"/>
<rect x="329.30" y="325.80" width="6.8" height="6.8" fill="#0a0a0a"/>
<rect x="337.80" y="309.80" width="6.8" height="6.8" fill="#0a0a0a"/>
<rect x="518.80" y="450.50" width="6.8" height="6.8" fill="#0a0a0a"/>
<rect x="526.80" y="451.80" width="6.8" height="6.8" fill="#0a0a0a"/>
<rect x="542.70" y="455.40" width="6.8" height="6.8" fill="#0a0a0a"/>
<rect x="551.00" y="445.80" width="6.8" height="6.8" fill="#0a0a0a"/>
<rect x="559.30" y="457.70" width="6.8" height="6.8" fill="#0a0a0a"/>
<rect x="567.40" y="450.90" width="6.8" height="6.8" fill="#0a0a0a"/>
<rect x="575.60" y="449.10" width="6.8" height="6.8" fill="#0a0a0a"/>
<rect x="583.90" y="444.00" width="6.8" height="6.8" fill="#0a0a0a"/>
<rect x="592.40" y="422.50" width="6.8" height="6.8" fill="#0a0a0a"/>
<rect x="600.80" y="398.40" width="6.8" height="6.8" fill="#0a0a0a"/>
<rect x="609.20" y="361.50" width="6.8" height="6.8" fill="#0a0a0a"/>
<rect x="617.80" y="333.70" width="6.8" height="6.8" fill="#0a0a0a"/>
<rect x="626.20" y="320.20" width="6.8" height="6.8" fill="#0a0a0a"/>
<rect x="634.80" y="309.20" width="6.8" height="6.8" fill="#0a0a0a"/>
<rect x="644.10" y="316.50" width="6.8" height="6.8" fill="#0a0a0a"/>
<rect x="652.20" y="312.60" width="6.8" height="6.8" fill="#0a0a0a"/>
<rect x="661.00" y="312.60" width="6.8" height="6.8" fill="#0a0a0a"/>
<rect x="669.90" y="313.10" width="6.8" height="6.8" fill="#0a0a0a"/>
<rect x="679.20" y="301.30" width="6.8" height="6.8" fill="#0a0a0a"/>
<rect x="688.30" y="304.30" width="6.8" height="6.8" fill="#0a0a0a"/>
<rect x="697.10" y="307.50" width="6.8" height="6.8" fill="#0a0a0a"/>
<rect x="706.00" y="299.40" width="6.8" height="6.8" fill="#0a0a0a"/>
<rect x="724.40" y="303.30" width="6.8" height="6.8" fill="#0a0a0a"/>
<rect x="733.70" y="304.50" width="6.8" height="6.8" fill="#0a0a0a"/>
<path d="M122.00,473.50 C126.67,473.38 141.17,473.22 150.00,472.80 C158.83,472.38 167.50,471.83 175.00,471.00 C182.50,470.17 189.83,468.70 195.00,467.80 C200.17,466.90 203.25,466.45 206.00,465.60 C208.75,464.75 209.90,464.55 211.50,462.70 C213.10,460.85 214.23,457.70 215.60,454.50 C216.97,451.30 218.57,446.70 219.70,443.50 C220.83,440.30 221.48,438.50 222.40,435.30 C223.32,432.10 224.28,428.42 225.20,424.30 C226.12,420.18 227.00,415.63 227.90,410.60 C228.80,405.57 229.75,399.87 230.60,394.10 C231.45,388.33 232.27,381.18 233.00,376.00 C233.73,370.82 234.43,366.67 235.00,363.00 C235.57,359.33 235.87,356.58 236.40,354.00 C236.93,351.42 237.58,349.40 238.20,347.50 C238.82,345.60 239.10,344.45 240.10,342.60 C241.10,340.75 242.32,338.05 244.20,336.40 C246.08,334.75 248.83,333.55 251.40,332.70 C253.97,331.85 256.50,331.68 259.60,331.30 C262.70,330.92 265.77,330.68 270.00,330.40 C274.23,330.12 278.33,329.83 285.00,329.60 C291.67,329.37 300.48,329.15 310.00,329.00 C319.52,328.85 336.75,328.75 342.10,328.70" fill="none" stroke="#c8354a" stroke-width="0.95" stroke-opacity="0.68"/>
<path d="M497.60,457.20 C501.33,457.17 512.22,457.13 520.00,457.00 C527.78,456.87 537.25,456.77 544.30,456.40 C551.35,456.03 557.78,455.30 562.30,454.80 C566.82,454.30 568.38,454.00 571.40,453.40 C574.42,452.80 577.75,452.23 580.40,451.20 C583.05,450.17 585.45,449.27 587.30,447.20 C589.15,445.13 590.08,442.25 591.50,438.80 C592.92,435.35 594.38,430.60 595.80,426.50 C597.22,422.40 598.60,418.37 600.00,414.20 C601.40,410.03 602.80,406.67 604.20,401.50 C605.60,396.33 607.00,389.28 608.40,383.20 C609.80,377.12 611.17,370.53 612.60,365.00 C614.03,359.47 615.57,354.47 617.00,350.00 C618.43,345.53 619.80,341.57 621.20,338.20 C622.60,334.83 624.00,332.03 625.40,329.80 C626.80,327.57 628.00,326.13 629.60,324.80 C631.20,323.47 632.63,322.62 635.00,321.80 C637.37,320.98 640.47,320.43 643.80,319.90 C647.13,319.37 650.08,318.97 655.00,318.60 C659.92,318.23 665.35,317.97 673.30,317.70 C681.25,317.43 692.07,317.20 702.70,317.00 C713.33,316.80 731.37,316.58 737.10,316.50" fill="none" stroke="#c8354a" stroke-width="0.95" stroke-opacity="0.68"/>
<line x1="94.70" y1="73.35" x2="94.70" y2="286.50" stroke="#1a1a1a" stroke-width="1.3" stroke-linecap="butt"/>
<line x1="384.80" y1="73.35" x2="384.80" y2="287.00" stroke="#1a1a1a" stroke-width="1.3" stroke-linecap="butt"/>
<line x1="94.65" y1="286.50" x2="94.65" y2="502.20" stroke="#222" stroke-width="1.1500000000000001" stroke-linecap="butt"/>
<line x1="384.50" y1="286.50" x2="384.50" y2="504.90" stroke="#222" stroke-width="1.05" stroke-linecap="butt"/>
<line x1="88.40" y1="74.00" x2="385.45" y2="74.00" stroke="#1a1a1a" stroke-width="1.3" stroke-linecap="butt"/>
<line x1="88.40" y1="286.50" x2="384.50" y2="286.50" stroke="#1a1a1a" stroke-width="1.05" stroke-linecap="butt"/>
<line x1="88.40" y1="498.60" x2="384.50" y2="498.60" stroke="#222" stroke-width="1.05" stroke-linecap="butt"/>
<line x1="106.50" y1="74.00" x2="106.50" y2="77.60" stroke="#161616" stroke-width="1.05" stroke-linecap="butt"/>
<line x1="117.50" y1="74.00" x2="117.50" y2="80.70" stroke="#161616" stroke-width="1.05" stroke-linecap="butt"/>
<line x1="129.50" y1="74.00" x2="129.50" y2="77.60" stroke="#161616" stroke-width="1.05" stroke-linecap="butt"/>
<line x1="141.50" y1="74.00" x2="141.50" y2="80.70" stroke="#161616" stroke-width="1.05" stroke-linecap="butt"/>
<line x1="152.50" y1="74.00" x2="152.50" y2="77.60" stroke="#161616" stroke-width="1.05" stroke-linecap="butt"/>
<line x1="164.50" y1="74.00" x2="164.50" y2="80.70" stroke="#161616" stroke-width="1.05" stroke-linecap="butt"/>
<line x1="175.50" y1="74.00" x2="175.50" y2="77.60" stroke="#161616" stroke-width="1.05" stroke-linecap="butt"/>
<line x1="187.50" y1="74.00" x2="187.50" y2="80.70" stroke="#161616" stroke-width="1.05" stroke-linecap="butt"/>
<line x1="199.50" y1="74.00" x2="199.50" y2="77.60" stroke="#161616" stroke-width="1.05" stroke-linecap="butt"/>
<line x1="210.50" y1="74.00" x2="210.50" y2="80.70" stroke="#161616" stroke-width="1.05" stroke-linecap="butt"/>
<line x1="222.50" y1="74.00" x2="222.50" y2="77.60" stroke="#161616" stroke-width="1.05" stroke-linecap="butt"/>
<line x1="233.50" y1="74.00" x2="233.50" y2="80.70" stroke="#161616" stroke-width="1.05" stroke-linecap="butt"/>
<line x1="245.50" y1="74.00" x2="245.50" y2="77.60" stroke="#161616" stroke-width="1.05" stroke-linecap="butt"/>
<line x1="257.50" y1="74.00" x2="257.50" y2="80.70" stroke="#161616" stroke-width="1.05" stroke-linecap="butt"/>
<line x1="268.50" y1="74.00" x2="268.50" y2="77.60" stroke="#161616" stroke-width="1.05" stroke-linecap="butt"/>
<line x1="280.50" y1="74.00" x2="280.50" y2="80.70" stroke="#161616" stroke-width="1.05" stroke-linecap="butt"/>
<line x1="291.50" y1="74.00" x2="291.50" y2="77.60" stroke="#161616" stroke-width="1.05" stroke-linecap="butt"/>
<line x1="303.50" y1="74.00" x2="303.50" y2="80.70" stroke="#161616" stroke-width="1.05" stroke-linecap="butt"/>
<line x1="315.50" y1="74.00" x2="315.50" y2="77.60" stroke="#161616" stroke-width="1.05" stroke-linecap="butt"/>
<line x1="326.50" y1="74.00" x2="326.50" y2="80.70" stroke="#161616" stroke-width="1.05" stroke-linecap="butt"/>
<line x1="338.50" y1="74.00" x2="338.50" y2="77.60" stroke="#161616" stroke-width="1.05" stroke-linecap="butt"/>
<line x1="349.50" y1="74.00" x2="349.50" y2="80.70" stroke="#161616" stroke-width="1.05" stroke-linecap="butt"/>
<line x1="361.50" y1="74.00" x2="361.50" y2="77.60" stroke="#161616" stroke-width="1.05" stroke-linecap="butt"/>
<line x1="373.50" y1="74.00" x2="373.50" y2="80.70" stroke="#161616" stroke-width="1.05" stroke-linecap="butt"/>
<text transform="translate(117.30,63.90) scale(0.94,1)" font-size="23.0" text-anchor="middle" >0</text>
<text transform="translate(165.20,63.90) scale(0.94,1)" font-size="23.0" text-anchor="middle" >20</text>
<text transform="translate(213.40,63.90) scale(0.94,1)" font-size="23.0" text-anchor="middle" >40</text>
<text transform="translate(261.70,63.90) scale(0.94,1)" font-size="23.0" text-anchor="middle" >60</text>
<text transform="translate(302.70,63.90) scale(0.94,1)" font-size="23.0" text-anchor="middle" >80</text>
<text transform="translate(351.30,63.90) scale(0.94,1)" font-size="23.0" text-anchor="middle" >100</text>
<text x="229.20" y="27.80" font-size="27.1" text-anchor="middle" >Time (min)</text>
<line x1="88.40" y1="73.50" x2="94.70" y2="73.50" stroke="#161616" stroke-width="1.05" stroke-linecap="butt"/>
<line x1="378.20" y1="73.50" x2="384.50" y2="73.50" stroke="#161616" stroke-width="1.05" stroke-linecap="butt"/>
<line x1="88.40" y1="127.50" x2="94.70" y2="127.50" stroke="#161616" stroke-width="1.05" stroke-linecap="butt"/>
<line x1="378.20" y1="127.50" x2="384.50" y2="127.50" stroke="#161616" stroke-width="1.05" stroke-linecap="butt"/>
<line x1="88.40" y1="180.50" x2="94.70" y2="180.50" stroke="#161616" stroke-width="1.05" stroke-linecap="butt"/>
<line x1="378.20" y1="180.50" x2="384.50" y2="180.50" stroke="#161616" stroke-width="1.05" stroke-linecap="butt"/>
<line x1="88.40" y1="233.50" x2="94.70" y2="233.50" stroke="#161616" stroke-width="1.05" stroke-linecap="butt"/>
<line x1="378.20" y1="233.50" x2="384.50" y2="233.50" stroke="#161616" stroke-width="1.05" stroke-linecap="butt"/>
<line x1="88.40" y1="286.50" x2="94.70" y2="286.50" stroke="#161616" stroke-width="1.05" stroke-linecap="butt"/>
<line x1="378.20" y1="286.50" x2="384.50" y2="286.50" stroke="#161616" stroke-width="1.05" stroke-linecap="butt"/>
<line x1="91.10" y1="100.50" x2="94.70" y2="100.50" stroke="#161616" stroke-width="1.05" stroke-linecap="butt"/>
<line x1="380.90" y1="100.50" x2="384.50" y2="100.50" stroke="#161616" stroke-width="1.05" stroke-linecap="butt"/>
<line x1="91.10" y1="153.50" x2="94.70" y2="153.50" stroke="#161616" stroke-width="1.05" stroke-linecap="butt"/>
<line x1="380.90" y1="153.50" x2="384.50" y2="153.50" stroke="#161616" stroke-width="1.05" stroke-linecap="butt"/>
<line x1="91.10" y1="206.50" x2="94.70" y2="206.50" stroke="#161616" stroke-width="1.05" stroke-linecap="butt"/>
<line x1="380.90" y1="206.50" x2="384.50" y2="206.50" stroke="#161616" stroke-width="1.05" stroke-linecap="butt"/>
<line x1="91.10" y1="259.50" x2="94.70" y2="259.50" stroke="#161616" stroke-width="1.05" stroke-linecap="butt"/>
<line x1="380.90" y1="259.50" x2="384.50" y2="259.50" stroke="#161616" stroke-width="1.05" stroke-linecap="butt"/>
<text transform="translate(82.40,84.90) scale(0.89,1)" font-size="23.0" text-anchor="end" >0.2</text>
<text transform="translate(82.40,134.10) scale(0.89,1)" font-size="23.0" text-anchor="end" >0</text>
<text transform="translate(82.40,186.10) scale(0.89,1)" font-size="23.0" text-anchor="end" >-0.2</text>
<text transform="translate(82.40,237.30) scale(0.89,1)" font-size="23.0" text-anchor="end" >-0.4</text>
<text transform="translate(82.40,288.80) scale(0.89,1)" font-size="23.0" text-anchor="end" >-0.6</text>
<line x1="120.50" y1="286.50" x2="120.50" y2="293.10" stroke="#161616" stroke-width="1.0" stroke-linecap="butt"/>
<line x1="120.50" y1="498.60" x2="120.50" y2="504.90" stroke="#161616" stroke-width="1.0" stroke-linecap="butt"/>
<line x1="146.50" y1="286.50" x2="146.50" y2="290.50" stroke="#161616" stroke-width="1.0" stroke-linecap="butt"/>
<line x1="146.50" y1="498.60" x2="146.50" y2="502.20" stroke="#161616" stroke-width="1.0" stroke-linecap="butt"/>
<line x1="173.50" y1="286.50" x2="173.50" y2="293.10" stroke="#161616" stroke-width="1.0" stroke-linecap="butt"/>
<line x1="173.50" y1="498.60" x2="173.50" y2="504.90" stroke="#161616" stroke-width="1.0" stroke-linecap="butt"/>
<line x1="199.50" y1="286.50" x2="199.50" y2="290.50" stroke="#161616" stroke-width="1.0" stroke-linecap="butt"/>
<line x1="199.50" y1="498.60" x2="199.50" y2="502.20" stroke="#161616" stroke-width="1.0" stroke-linecap="butt"/>
<line x1="226.50" y1="286.50" x2="226.50" y2="293.10" stroke="#161616" stroke-width="1.0" stroke-linecap="butt"/>
<line x1="226.50" y1="498.60" x2="226.50" y2="504.90" stroke="#161616" stroke-width="1.0" stroke-linecap="butt"/>
<line x1="252.50" y1="286.50" x2="252.50" y2="290.50" stroke="#161616" stroke-width="1.0" stroke-linecap="butt"/>
<line x1="252.50" y1="498.60" x2="252.50" y2="502.20" stroke="#161616" stroke-width="1.0" stroke-linecap="butt"/>
<line x1="278.50" y1="286.50" x2="278.50" y2="293.10" stroke="#161616" stroke-width="1.0" stroke-linecap="butt"/>
<line x1="278.50" y1="498.60" x2="278.50" y2="504.90" stroke="#161616" stroke-width="1.0" stroke-linecap="butt"/>
<line x1="305.50" y1="286.50" x2="305.50" y2="290.50" stroke="#161616" stroke-width="1.0" stroke-linecap="butt"/>
<line x1="305.50" y1="498.60" x2="305.50" y2="502.20" stroke="#161616" stroke-width="1.0" stroke-linecap="butt"/>
<line x1="331.50" y1="286.50" x2="331.50" y2="293.10" stroke="#161616" stroke-width="1.0" stroke-linecap="butt"/>
<line x1="331.50" y1="498.60" x2="331.50" y2="504.90" stroke="#161616" stroke-width="1.0" stroke-linecap="butt"/>
<line x1="358.50" y1="286.50" x2="358.50" y2="290.50" stroke="#161616" stroke-width="1.0" stroke-linecap="butt"/>
<line x1="358.50" y1="498.60" x2="358.50" y2="502.20" stroke="#161616" stroke-width="1.0" stroke-linecap="butt"/>
<text transform="translate(120.60,529.60) scale(0.884,1)" font-size="23.2" text-anchor="middle" >0</text>
<text transform="translate(171.80,529.60) scale(0.884,1)" font-size="23.2" text-anchor="middle" >0.5</text>
<text transform="translate(224.30,529.60) scale(0.884,1)" font-size="23.2" text-anchor="middle" >1.0</text>
<text transform="translate(277.40,529.60) scale(0.884,1)" font-size="23.2" text-anchor="middle" >1.5</text>
<text transform="translate(329.90,529.60) scale(0.884,1)" font-size="23.2" text-anchor="middle" >2.0</text>
<text transform="translate(383.00,529.60) scale(0.884,1)" font-size="23.2" text-anchor="middle" >2.5</text>
<text transform="translate(236.70,570.50) scale(0.953,1)" font-size="27.2" text-anchor="middle" >[C8B]/[CAI]</text>
<line x1="88.40" y1="328.50" x2="94.70" y2="328.50" stroke="#161616" stroke-width="1.0" stroke-linecap="butt"/>
<line x1="378.20" y1="328.50" x2="384.50" y2="328.50" stroke="#161616" stroke-width="1.0" stroke-linecap="butt"/>
<line x1="88.40" y1="371.50" x2="94.70" y2="371.50" stroke="#161616" stroke-width="1.0" stroke-linecap="butt"/>
<line x1="378.20" y1="371.50" x2="384.50" y2="371.50" stroke="#161616" stroke-width="1.0" stroke-linecap="butt"/>
<line x1="88.40" y1="413.50" x2="94.70" y2="413.50" stroke="#161616" stroke-width="1.0" stroke-linecap="butt"/>
<line x1="378.20" y1="413.50" x2="384.50" y2="413.50" stroke="#161616" stroke-width="1.0" stroke-linecap="butt"/>
<line x1="88.40" y1="456.50" x2="94.70" y2="456.50" stroke="#161616" stroke-width="1.0" stroke-linecap="butt"/>
<line x1="378.20" y1="456.50" x2="384.50" y2="456.50" stroke="#161616" stroke-width="1.0" stroke-linecap="butt"/>
<line x1="88.40" y1="498.50" x2="94.70" y2="498.50" stroke="#161616" stroke-width="1.0" stroke-linecap="butt"/>
<line x1="378.20" y1="498.50" x2="384.50" y2="498.50" stroke="#161616" stroke-width="1.0" stroke-linecap="butt"/>
<line x1="91.10" y1="307.50" x2="94.70" y2="307.50" stroke="#161616" stroke-width="1.0" stroke-linecap="butt"/>
<line x1="380.90" y1="307.50" x2="384.50" y2="307.50" stroke="#161616" stroke-width="1.0" stroke-linecap="butt"/>
<line x1="91.10" y1="350.50" x2="94.70" y2="350.50" stroke="#161616" stroke-width="1.0" stroke-linecap="butt"/>
<line x1="380.90" y1="350.50" x2="384.50" y2="350.50" stroke="#161616" stroke-width="1.0" stroke-linecap="butt"/>
<line x1="91.10" y1="392.50" x2="94.70" y2="392.50" stroke="#161616" stroke-width="1.0" stroke-linecap="butt"/>
<line x1="380.90" y1="392.50" x2="384.50" y2="392.50" stroke="#161616" stroke-width="1.0" stroke-linecap="butt"/>
<line x1="91.10" y1="434.50" x2="94.70" y2="434.50" stroke="#161616" stroke-width="1.0" stroke-linecap="butt"/>
<line x1="380.90" y1="434.50" x2="384.50" y2="434.50" stroke="#161616" stroke-width="1.0" stroke-linecap="butt"/>
<line x1="91.10" y1="477.50" x2="94.70" y2="477.50" stroke="#161616" stroke-width="1.0" stroke-linecap="butt"/>
<line x1="380.90" y1="477.50" x2="384.50" y2="477.50" stroke="#161616" stroke-width="1.0" stroke-linecap="butt"/>
<text transform="translate(77.40,337.00) scale(0.89,1)" font-size="23.0" text-anchor="end" >0</text>
<text transform="translate(77.40,379.20) scale(0.89,1)" font-size="23.0" text-anchor="end" >-<tspan dx="3.0">2</tspan></text>
<text transform="translate(77.40,421.30) scale(0.89,1)" font-size="23.0" text-anchor="end" >-<tspan dx="3.0">4</tspan></text>
<text transform="translate(77.40,463.70) scale(0.89,1)" font-size="23.0" text-anchor="end" >-<tspan dx="3.0">6</tspan></text>
<text transform="translate(77.40,505.50) scale(0.89,1)" font-size="23.0" text-anchor="end" >-<tspan dx="3.0">8</tspan></text>
<line x1="475.20" y1="73.35" x2="475.20" y2="286.50" stroke="#1a1a1a" stroke-width="1.3" stroke-linecap="butt"/>
<line x1="765.80" y1="73.35" x2="765.80" y2="287.00" stroke="#1a1a1a" stroke-width="1.3" stroke-linecap="butt"/>
<line x1="475.15" y1="286.50" x2="475.15" y2="502.20" stroke="#222" stroke-width="1.1500000000000001" stroke-linecap="butt"/>
<line x1="765.50" y1="286.50" x2="765.50" y2="502.20" stroke="#222" stroke-width="1.05" stroke-linecap="butt"/>
<line x1="468.90" y1="74.00" x2="766.45" y2="74.00" stroke="#1a1a1a" stroke-width="1.3" stroke-linecap="butt"/>
<line x1="468.90" y1="286.50" x2="765.50" y2="286.50" stroke="#1a1a1a" stroke-width="1.05" stroke-linecap="butt"/>
<line x1="468.90" y1="498.60" x2="765.50" y2="498.60" stroke="#222" stroke-width="1.05" stroke-linecap="butt"/>
<line x1="487.50" y1="74.00" x2="487.50" y2="77.60" stroke="#161616" stroke-width="1.05" stroke-linecap="butt"/>
<line x1="498.50" y1="74.00" x2="498.50" y2="80.70" stroke="#161616" stroke-width="1.05" stroke-linecap="butt"/>
<line x1="510.50" y1="74.00" x2="510.50" y2="77.60" stroke="#161616" stroke-width="1.05" stroke-linecap="butt"/>
<line x1="521.50" y1="74.00" x2="521.50" y2="80.70" stroke="#161616" stroke-width="1.05" stroke-linecap="butt"/>
<line x1="533.50" y1="74.00" x2="533.50" y2="77.60" stroke="#161616" stroke-width="1.05" stroke-linecap="butt"/>
<line x1="545.50" y1="74.00" x2="545.50" y2="80.70" stroke="#161616" stroke-width="1.05" stroke-linecap="butt"/>
<line x1="556.50" y1="74.00" x2="556.50" y2="77.60" stroke="#161616" stroke-width="1.05" stroke-linecap="butt"/>
<line x1="568.50" y1="74.00" x2="568.50" y2="80.70" stroke="#161616" stroke-width="1.05" stroke-linecap="butt"/>
<line x1="579.50" y1="74.00" x2="579.50" y2="77.60" stroke="#161616" stroke-width="1.05" stroke-linecap="butt"/>
<line x1="591.50" y1="74.00" x2="591.50" y2="80.70" stroke="#161616" stroke-width="1.05" stroke-linecap="butt"/>
<line x1="603.50" y1="74.00" x2="603.50" y2="77.60" stroke="#161616" stroke-width="1.05" stroke-linecap="butt"/>
<line x1="614.50" y1="74.00" x2="614.50" y2="80.70" stroke="#161616" stroke-width="1.05" stroke-linecap="butt"/>
<line x1="626.50" y1="74.00" x2="626.50" y2="77.60" stroke="#161616" stroke-width="1.05" stroke-linecap="butt"/>
<line x1="637.50" y1="74.00" x2="637.50" y2="80.70" stroke="#161616" stroke-width="1.05" stroke-linecap="butt"/>
<line x1="649.50" y1="74.00" x2="649.50" y2="77.60" stroke="#161616" stroke-width="1.05" stroke-linecap="butt"/>
<line x1="661.50" y1="74.00" x2="661.50" y2="80.70" stroke="#161616" stroke-width="1.05" stroke-linecap="butt"/>
<line x1="672.50" y1="74.00" x2="672.50" y2="77.60" stroke="#161616" stroke-width="1.05" stroke-linecap="butt"/>
<line x1="684.50" y1="74.00" x2="684.50" y2="80.70" stroke="#161616" stroke-width="1.05" stroke-linecap="butt"/>
<line x1="695.50" y1="74.00" x2="695.50" y2="77.60" stroke="#161616" stroke-width="1.05" stroke-linecap="butt"/>
<line x1="707.50" y1="74.00" x2="707.50" y2="80.70" stroke="#161616" stroke-width="1.05" stroke-linecap="butt"/>
<line x1="719.50" y1="74.00" x2="719.50" y2="77.60" stroke="#161616" stroke-width="1.05" stroke-linecap="butt"/>
<line x1="730.50" y1="74.00" x2="730.50" y2="80.70" stroke="#161616" stroke-width="1.05" stroke-linecap="butt"/>
<line x1="742.50" y1="74.00" x2="742.50" y2="77.60" stroke="#161616" stroke-width="1.05" stroke-linecap="butt"/>
<line x1="753.50" y1="74.00" x2="753.50" y2="80.70" stroke="#161616" stroke-width="1.05" stroke-linecap="butt"/>
<text transform="translate(499.00,60.80) scale(0.94,1)" font-size="23.0" text-anchor="middle" >0</text>
<text transform="translate(547.60,60.80) scale(0.94,1)" font-size="23.0" text-anchor="middle" >20</text>
<text transform="translate(590.10,60.80) scale(0.94,1)" font-size="23.0" text-anchor="middle" >40</text>
<text transform="translate(637.60,60.80) scale(0.94,1)" font-size="23.0" text-anchor="middle" >60</text>
<text transform="translate(683.20,60.80) scale(0.94,1)" font-size="23.0" text-anchor="middle" >80</text>
<text transform="translate(732.60,60.80) scale(0.94,1)" font-size="23.0" text-anchor="middle" >100</text>
<text x="610.30" y="27.80" font-size="27.1" text-anchor="middle" >Time (min)</text>
<line x1="468.90" y1="73.50" x2="475.20" y2="73.50" stroke="#161616" stroke-width="1.05" stroke-linecap="butt"/>
<line x1="759.20" y1="73.50" x2="765.50" y2="73.50" stroke="#161616" stroke-width="1.05" stroke-linecap="butt"/>
<line x1="468.90" y1="127.50" x2="475.20" y2="127.50" stroke="#161616" stroke-width="1.05" stroke-linecap="butt"/>
<line x1="759.20" y1="127.50" x2="765.50" y2="127.50" stroke="#161616" stroke-width="1.05" stroke-linecap="butt"/>
<line x1="468.90" y1="180.50" x2="475.20" y2="180.50" stroke="#161616" stroke-width="1.05" stroke-linecap="butt"/>
<line x1="759.20" y1="180.50" x2="765.50" y2="180.50" stroke="#161616" stroke-width="1.05" stroke-linecap="butt"/>
<line x1="468.90" y1="233.50" x2="475.20" y2="233.50" stroke="#161616" stroke-width="1.05" stroke-linecap="butt"/>
<line x1="759.20" y1="233.50" x2="765.50" y2="233.50" stroke="#161616" stroke-width="1.05" stroke-linecap="butt"/>
<line x1="468.90" y1="286.50" x2="475.20" y2="286.50" stroke="#161616" stroke-width="1.05" stroke-linecap="butt"/>
<line x1="759.20" y1="286.50" x2="765.50" y2="286.50" stroke="#161616" stroke-width="1.05" stroke-linecap="butt"/>
<line x1="471.60" y1="100.50" x2="475.20" y2="100.50" stroke="#161616" stroke-width="1.05" stroke-linecap="butt"/>
<line x1="761.90" y1="100.50" x2="765.50" y2="100.50" stroke="#161616" stroke-width="1.05" stroke-linecap="butt"/>
<line x1="471.60" y1="153.50" x2="475.20" y2="153.50" stroke="#161616" stroke-width="1.05" stroke-linecap="butt"/>
<line x1="761.90" y1="153.50" x2="765.50" y2="153.50" stroke="#161616" stroke-width="1.05" stroke-linecap="butt"/>
<line x1="471.60" y1="206.50" x2="475.20" y2="206.50" stroke="#161616" stroke-width="1.05" stroke-linecap="butt"/>
<line x1="761.90" y1="206.50" x2="765.50" y2="206.50" stroke="#161616" stroke-width="1.05" stroke-linecap="butt"/>
<line x1="471.60" y1="259.50" x2="475.20" y2="259.50" stroke="#161616" stroke-width="1.05" stroke-linecap="butt"/>
<line x1="761.90" y1="259.50" x2="765.50" y2="259.50" stroke="#161616" stroke-width="1.05" stroke-linecap="butt"/>
<text transform="translate(460.60,84.60) scale(0.89,1)" font-size="23.0" text-anchor="end" >0.1</text>
<text transform="translate(461.70,135.10) scale(0.89,1)" font-size="23.0" text-anchor="end" >0</text>
<text transform="translate(460.30,188.20) scale(0.89,1)" font-size="23.0" text-anchor="end" >-0.1</text>
<text transform="translate(460.30,238.80) scale(0.89,1)" font-size="23.0" text-anchor="end" >-0.2</text>
<text transform="translate(460.30,290.00) scale(0.89,1)" font-size="23.0" text-anchor="end" >-0.3</text>
<line x1="495.50" y1="286.50" x2="495.50" y2="293.10" stroke="#161616" stroke-width="1.0" stroke-linecap="butt"/>
<line x1="495.50" y1="498.60" x2="495.50" y2="504.90" stroke="#161616" stroke-width="1.0" stroke-linecap="butt"/>
<line x1="516.50" y1="286.50" x2="516.50" y2="290.50" stroke="#161616" stroke-width="1.0" stroke-linecap="butt"/>
<line x1="516.50" y1="498.60" x2="516.50" y2="502.20" stroke="#161616" stroke-width="1.0" stroke-linecap="butt"/>
<line x1="537.50" y1="286.50" x2="537.50" y2="293.10" stroke="#161616" stroke-width="1.0" stroke-linecap="butt"/>
<line x1="537.50" y1="498.60" x2="537.50" y2="504.90" stroke="#161616" stroke-width="1.0" stroke-linecap="butt"/>
<line x1="558.50" y1="286.50" x2="558.50" y2="290.50" stroke="#161616" stroke-width="1.0" stroke-linecap="butt"/>
<line x1="558.50" y1="498.60" x2="558.50" y2="502.20" stroke="#161616" stroke-width="1.0" stroke-linecap="butt"/>
<line x1="578.50" y1="286.50" x2="578.50" y2="293.10" stroke="#161616" stroke-width="1.0" stroke-linecap="butt"/>
<line x1="578.50" y1="498.60" x2="578.50" y2="504.90" stroke="#161616" stroke-width="1.0" stroke-linecap="butt"/>
<line x1="599.50" y1="286.50" x2="599.50" y2="290.50" stroke="#161616" stroke-width="1.0" stroke-linecap="butt"/>
<line x1="599.50" y1="498.60" x2="599.50" y2="502.20" stroke="#161616" stroke-width="1.0" stroke-linecap="butt"/>
<line x1="620.50" y1="286.50" x2="620.50" y2="293.10" stroke="#161616" stroke-width="1.0" stroke-linecap="butt"/>
<line x1="620.50" y1="498.60" x2="620.50" y2="504.90" stroke="#161616" stroke-width="1.0" stroke-linecap="butt"/>
<line x1="640.50" y1="286.50" x2="640.50" y2="290.50" stroke="#161616" stroke-width="1.0" stroke-linecap="butt"/>
<line x1="640.50" y1="498.60" x2="640.50" y2="502.20" stroke="#161616" stroke-width="1.0" stroke-linecap="butt"/>
<line x1="661.50" y1="286.50" x2="661.50" y2="293.10" stroke="#161616" stroke-width="1.0" stroke-linecap="butt"/>
<line x1="661.50" y1="498.60" x2="661.50" y2="504.90" stroke="#161616" stroke-width="1.0" stroke-linecap="butt"/>
<line x1="682.50" y1="286.50" x2="682.50" y2="290.50" stroke="#161616" stroke-width="1.0" stroke-linecap="butt"/>
<line x1="682.50" y1="498.60" x2="682.50" y2="502.20" stroke="#161616" stroke-width="1.0" stroke-linecap="butt"/>
<line x1="702.50" y1="286.50" x2="702.50" y2="293.10" stroke="#161616" stroke-width="1.0" stroke-linecap="butt"/>
<line x1="702.50" y1="498.60" x2="702.50" y2="504.90" stroke="#161616" stroke-width="1.0" stroke-linecap="butt"/>
<line x1="723.50" y1="286.50" x2="723.50" y2="290.50" stroke="#161616" stroke-width="1.0" stroke-linecap="butt"/>
<line x1="723.50" y1="498.60" x2="723.50" y2="502.20" stroke="#161616" stroke-width="1.0" stroke-linecap="butt"/>
<line x1="744.50" y1="286.50" x2="744.50" y2="293.10" stroke="#161616" stroke-width="1.0" stroke-linecap="butt"/>
<line x1="744.50" y1="498.60" x2="744.50" y2="504.90" stroke="#161616" stroke-width="1.0" stroke-linecap="butt"/>
<text transform="translate(497.60,529.60) scale(0.884,1)" font-size="23.2" text-anchor="middle" >0</text>
<text transform="translate(536.80,529.60) scale(0.884,1)" font-size="23.2" text-anchor="middle" >0.5</text>
<text transform="translate(579.60,529.60) scale(0.884,1)" font-size="23.2" text-anchor="middle" >1.0</text>
<text transform="translate(622.10,529.60) scale(0.884,1)" font-size="23.2" text-anchor="middle" >1.5</text>
<text transform="translate(664.40,529.60) scale(0.884,1)" font-size="23.2" text-anchor="middle" >2.0</text>
<text transform="translate(706.00,529.60) scale(0.884,1)" font-size="23.2" text-anchor="middle" >2.5</text>
<text transform="translate(748.70,529.60) scale(0.884,1)" font-size="23.2" text-anchor="middle" >3.0</text>
<text transform="translate(613.90,570.50) scale(0.968,1)" font-size="27.2" text-anchor="middle" >[C8B]/[CAII]</text>
<line x1="468.90" y1="316.50" x2="475.20" y2="316.50" stroke="#161616" stroke-width="1.0" stroke-linecap="butt"/>
<line x1="759.20" y1="316.50" x2="765.50" y2="316.50" stroke="#161616" stroke-width="1.0" stroke-linecap="butt"/>
<line x1="468.90" y1="377.50" x2="475.20" y2="377.50" stroke="#161616" stroke-width="1.0" stroke-linecap="butt"/>
<line x1="759.20" y1="377.50" x2="765.50" y2="377.50" stroke="#161616" stroke-width="1.0" stroke-linecap="butt"/>
<line x1="468.90" y1="437.50" x2="475.20" y2="437.50" stroke="#161616" stroke-width="1.0" stroke-linecap="butt"/>
<line x1="759.20" y1="437.50" x2="765.50" y2="437.50" stroke="#161616" stroke-width="1.0" stroke-linecap="butt"/>
<line x1="468.90" y1="498.50" x2="475.20" y2="498.50" stroke="#161616" stroke-width="1.0" stroke-linecap="butt"/>
<line x1="759.20" y1="498.50" x2="765.50" y2="498.50" stroke="#161616" stroke-width="1.0" stroke-linecap="butt"/>
<line x1="471.60" y1="346.50" x2="475.20" y2="346.50" stroke="#161616" stroke-width="1.0" stroke-linecap="butt"/>
<line x1="761.90" y1="346.50" x2="765.50" y2="346.50" stroke="#161616" stroke-width="1.0" stroke-linecap="butt"/>
<line x1="471.60" y1="407.50" x2="475.20" y2="407.50" stroke="#161616" stroke-width="1.0" stroke-linecap="butt"/>
<line x1="761.90" y1="407.50" x2="765.50" y2="407.50" stroke="#161616" stroke-width="1.0" stroke-linecap="butt"/>
<line x1="471.60" y1="468.50" x2="475.20" y2="468.50" stroke="#161616" stroke-width="1.0" stroke-linecap="butt"/>
<line x1="761.90" y1="468.50" x2="765.50" y2="468.50" stroke="#161616" stroke-width="1.0" stroke-linecap="butt"/>
<text transform="translate(460.40,323.80) scale(0.89,1)" font-size="23.0" text-anchor="end" >0</text>
<text transform="translate(460.30,385.00) scale(0.89,1)" font-size="23.0" text-anchor="end" >-<tspan dx="3.0">2</tspan></text>
<text transform="translate(459.40,445.20) scale(0.89,1)" font-size="23.0" text-anchor="end" >-<tspan dx="3.0">4</tspan></text>
<text transform="translate(461.00,507.30) scale(0.89,1)" font-size="23.0" text-anchor="end" >-<tspan dx="3.0">6</tspan></text>
<text transform="translate(30.4,180.2) rotate(-90)" font-size="27.3"><tspan x="-43.4" y="0" textLength="43.8" lengthAdjust="spacingAndGlyphs">μcal</tspan><tspan x="0.5" y="0" textLength="10.2" lengthAdjust="spacingAndGlyphs">/</tspan><tspan x="10.8" y="0" textLength="32.6" lengthAdjust="spacingAndGlyphs">sec</tspan></text>
<text transform="translate(30.6,390.0) rotate(-90)" font-size="27"><tspan x="-96.5" y="0">kcal</tspan><tspan x="-51.3" y="0" textLength="13.0" lengthAdjust="spacingAndGlyphs">/</tspan><tspan x="-38.2" y="0">mole</tspan> <tspan x="21.55" y="0" textLength="20.85" lengthAdjust="spacingAndGlyphs">of</tspan> <tspan x="51.15" y="0" textLength="45.7" lengthAdjust="spacingAndGlyphs">C8B</tspan></text>
</svg>
</body></html>
